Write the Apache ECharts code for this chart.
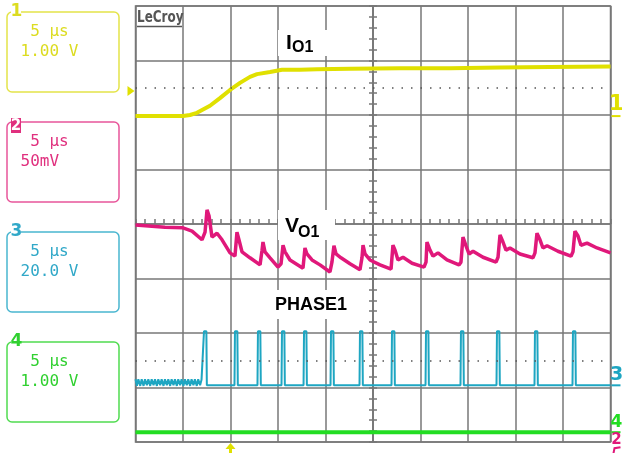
<!DOCTYPE html>
<html><head><meta charset="utf-8">
<script src="https://cdn.jsdelivr.net/npm/echarts@6/dist/echarts.min.js"></script>
<style>html,body{margin:0;padding:0;background:#fff}#c{width:622px;height:453px}</style>
</head><body><div id="c"></div>
<script>
// Time in microseconds from the left edge of the screen (5 us/div, 10 div); levels in screen divisions from centre (8 div)
const T_CENTER = 25;
const TRIGGER_T = 10;
const REF_LEVELS = [2.5, -2.5];           // dotted reference lines
const MARK_LEVELS = {ch1: 1.98, ch2: -4.4, ch3: -2.96, ch4: -3.82, ch1Left: 2.44};

const CH1_IO1 = [[0,1.98],[5.0,1.98],[5.74,2.0],[6.47,2.04],[7.84,2.17],[8.89,2.31],[9.95,2.46],[11.0,2.59],[12.05,2.7],[12.79,2.75],[14.16,2.79],[15.42,2.83],[17.32,2.83],[19.1,2.84],[22.58,2.85],[27.84,2.86],[33.1,2.86],[38.37,2.87],[43.63,2.88],[50,2.89]];

const CH2_VO1 = [[0,-0.02],[3.11,-0.06],[5.0,-0.07],[5.95,-0.13],[7.0,-0.29],[7.32,-0.15],[7.53,0.26],[7.74,0.15],[8.05,-0.24],[8.58,-0.17],[9.11,-0.29],[9.95,-0.53],[10.47,-0.59],[10.68,-0.15],[10.89,-0.29],[11.21,-0.51],[12.05,-0.62],[13.11,-0.75],[13.32,-0.48],[13.42,-0.33],[13.63,-0.51],[14.16,-0.62],[15.0,-0.79],[15.32,-0.73],[15.53,-0.39],[15.74,-0.51],[16.26,-0.66],[17.63,-0.81],[17.84,-0.44],[18.05,-0.55],[18.58,-0.66],[19.42,-0.75],[20.47,-0.88],[20.68,-0.70],[20.89,-0.40],[21.11,-0.55],[21.63,-0.62],[22.58,-0.73],[23.63,-0.84],[23.84,-0.62],[23.95,-0.39],[24.16,-0.55],[24.68,-0.66],[25.74,-0.75],[26.9,-0.83],[27.1,-0.39],[27.32,-0.48],[27.63,-0.66],[28.16,-0.61],[29.11,-0.72],[30.37,-0.79],[30.58,-0.70],[30.68,-0.33],[31.0,-0.48],[31.32,-0.59],[31.84,-0.53],[32.79,-0.66],[34.05,-0.75],[34.26,-0.70],[34.47,-0.24],[34.79,-0.40],[35.11,-0.55],[35.53,-0.50],[36.58,-0.61],[37.95,-0.70],[38.16,-0.61],[38.37,-0.20],[38.68,-0.33],[39.0,-0.48],[39.42,-0.44],[40.47,-0.55],[41.84,-0.62],[42.05,-0.53],[42.26,-0.17],[42.58,-0.29],[42.89,-0.44],[43.32,-0.40],[44.47,-0.50],[45.84,-0.59],[46.05,-0.51],[46.26,-0.13],[46.58,-0.22],[46.89,-0.39],[47.53,-0.35],[48.58,-0.44],[50,-0.53]];

const CH3_PHASE1 = [[0,-2.85],[0.15,-2.97],[0.3,-2.85],[0.5,-2.97],[0.65,-2.85],[0.85,-2.97],[1.0,-2.85],[1.2,-2.96],[1.35,-2.85],[1.55,-2.97],[1.7,-2.85],[1.9,-2.96],[2.05,-2.85],[2.25,-2.97],[2.4,-2.85],[2.6,-2.96],[2.75,-2.85],[2.95,-2.97],[3.1,-2.85],[3.3,-2.96],[3.45,-2.85],[3.65,-2.97],[3.8,-2.85],[4.0,-2.96],[4.15,-2.85],[4.35,-2.97],[4.5,-2.85],[4.7,-2.96],[4.85,-2.85],[5.05,-2.97],[5.2,-2.85],[5.4,-2.96],[5.55,-2.85],[5.75,-2.97],[5.9,-2.85],[6.1,-2.96],[6.25,-2.85],[6.45,-2.97],[6.6,-2.85],[6.8,-2.96],[6.95,-2.86],
[7.15,-2.86],[7.21,-1.97],[7.46,-1.97],[7.51,-2.96],
[10.42,-2.96],[10.47,-1.97],[10.72,-1.97],[10.77,-2.96],
[12.84,-2.96],[12.89,-1.97],[13.14,-1.97],[13.19,-2.96],
[15.37,-2.96],[15.42,-1.97],[15.67,-1.97],[15.72,-2.96],
[17.69,-2.96],[17.74,-1.97],[17.99,-1.97],[18.04,-2.96],
[20.53,-2.96],[20.58,-1.97],[20.83,-1.97],[20.88,-2.96],
[23.58,-2.96],[23.63,-1.97],[23.88,-1.97],[23.93,-2.96],
[26.95,-2.96],[27.0,-1.97],[27.25,-1.97],[27.3,-2.96],
[30.53,-2.96],[30.58,-1.97],[30.83,-1.97],[30.88,-2.96],
[34.21,-2.96],[34.26,-1.97],[34.51,-1.97],[34.56,-2.96],
[38.0,-2.96],[38.05,-1.97],[38.3,-1.97],[38.35,-2.96],
[42.0,-2.96],[42.05,-1.97],[42.3,-1.97],[42.35,-2.96],
[46.0,-2.96],[46.05,-1.97],[46.3,-1.97],[46.35,-2.96],
[50,-2.96]];

const CH4 = [[0,-3.82],[50,-3.82]];

const CHANNELS = [
  {num:'1', time:'5 \u03bcs', volt:'1.00 V'},
  {num:'2', time:'5 \u03bcs', volt:'50mV'},
  {num:'3', time:'5 \u03bcs', volt:'20.0 V'},
  {num:'4', time:'5 \u03bcs', volt:'1.00 V'}
];
const TRACE_LABELS = ['I', 'O1', 'V', 'O1', 'PHASE1'];

const GRID = '#777777';
const YEL = '#e0e000', PINK = '#e0187a', CYAN = '#1ea6c2', GREEN = '#22dd22';
const BOX_COLORS = ['#e4e44a', '#e8559a', '#4ab6d0', '#50dc50'];
const TXT_COLORS = ['#dcdc20', '#e0307e', '#30a8c8', '#30d030'];

const shift = arr => arr.map(p => [p[0] - T_CENTER, p[1]]);
const chart = echarts.init(document.getElementById('c'));
const axisCommon = {
  axisLine: {onZero: true, lineStyle: {color: GRID, width: 1.5}},
  axisTick: {show: true, length: 4, lineStyle: {color: GRID, width: 1.5}},
  minorTick: {show: true, splitNumber: 5, length: 4, lineStyle: {color: GRID, width: 1.5}},
  axisLabel: {show: false}
};
chart.setOption({
  animation: false,
  backgroundColor: '#fff',
  grid: {left: 135.5, top: 6, width: 475, height: 436, show: true, borderColor: GRID, borderWidth: 1.5, backgroundColor: '#fff'},
  xAxis: [Object.assign({type: 'value', min: -T_CENTER, max: T_CENTER, interval: 5, position: 'top',
    splitLine: {show: true, lineStyle: {color: GRID, width: 1.5}}}, axisCommon,
    {axisTick: {show: true, length: 5, lineStyle: {color: GRID, width: 1.5}},
     minorTick: {show: true, splitNumber: 5, length: 5, lineStyle: {color: GRID, width: 1.5}}})],
  yAxis: [
    Object.assign({type: 'value', min: -4, max: 4, interval: 1, position: 'left',
      splitLine: {show: true, lineStyle: {color: GRID, width: 1.5}}}, axisCommon),
    Object.assign({type: 'value', min: -4, max: 4, interval: 1, position: 'right', splitLine: {show: false}}, axisCommon,
      {axisLine: {onZero: true, onZeroAxisIndex: 0, lineStyle: {color: GRID, width: 1.5}}})
  ],
  series: [
    {type: 'line', data: shift(CH4), showSymbol: false, lineStyle: {color: GREEN, width: 4}, itemStyle: {color: GREEN},
      markLine: {silent: true, symbol: 'none', label: {show: false},
        lineStyle: {color: '#555', width: 1.5, type: [1.5, 8]},
        data: REF_LEVELS.map(v => ({yAxis: v}))}},
    {type: 'line', data: shift(CH3_PHASE1), showSymbol: false, lineStyle: {color: CYAN, width: 2}, itemStyle: {color: CYAN}},
    {type: 'line', data: shift(CH2_VO1), showSymbol: false, lineStyle: {color: PINK, width: 3.5}, itemStyle: {color: PINK}},
    {type: 'line', data: shift(CH1_IO1), showSymbol: false, lineStyle: {color: YEL, width: 4}, itemStyle: {color: YEL}}
  ]
});

const px = (t, v) => chart.convertToPixel({xAxisIndex: 0, yAxisIndex: 0}, [t - T_CENTER, v]);
const g = [];
const MONO = '"DejaVu Sans Mono", monospace';
const boxTops = [12, 122, 232, 342];
CHANNELS.forEach((ch, i) => {
  const top = boxTops[i];
  g.push({type: 'rect', shape: {x: 7, y: top, width: 112, height: 80, r: 5},
    style: {fill: 'none', stroke: BOX_COLORS[i], lineWidth: 1.5}, z: 10});
  if (i === 1) {
    g.push({type: 'rect', shape: {x: 11, y: top - 4, width: 10, height: 15}, style: {fill: TXT_COLORS[i]}, z: 11});
    g.push({type: 'text', style: {text: ch.num, x: 16, y: top + 4, fill: '#fff', font: 'bold 15px "DejaVu Sans"', align: 'center', verticalAlign: 'middle'}, z: 12});
  } else {
    g.push({type: 'rect', shape: {x: 11, y: top - 2, width: 10, height: 4}, style: {fill: '#fff'}, z: 11});
    g.push({type: 'text', style: {text: ch.num, x: 16.5, y: top, fill: TXT_COLORS[i], font: 'bold 17px "DejaVu Sans"', align: 'center', verticalAlign: 'middle'}, z: 12});
  }
  g.push({type: 'text', style: {text: ' ' + ch.time, x: 20.5, y: top + 20, fill: TXT_COLORS[i], font: '16px ' + MONO, verticalAlign: 'middle'}, z: 12});
  g.push({type: 'text', style: {text: ch.volt, x: 20.5, y: top + 40, fill: TXT_COLORS[i], font: '16px ' + MONO, verticalAlign: 'middle'}, z: 12});
});
// LeCroy logo
g.push({type: 'text', x: 137, y: 18, scaleX: 0.8, style: {text: 'LeCroy', x: 0, y: 0, fill: '#555', font: 'bold 15px "DejaVu Sans"', verticalAlign: 'middle'}, z: 12});
g.push({type: 'line', shape: {x1: 137, y1: 26.5, x2: 182, y2: 26.5}, style: {stroke: '#555', lineWidth: 1.5}, z: 12});
// trace labels with white backgrounds
g.push({type: 'rect', shape: {x: 278, y: 30, width: 54, height: 26}, style: {fill: '#fff'}, z: 11});
g.push({type: 'text', style: {text: TRACE_LABELS[0], x: 286, y: 43, fill: '#000', font: 'bold 21px "Liberation Sans"', verticalAlign: 'middle'}, z: 12});
g.push({type: 'text', style: {text: TRACE_LABELS[1], x: 292, y: 48, fill: '#000', font: 'bold 16px "Liberation Sans"', verticalAlign: 'middle'}, z: 12});
g.push({type: 'rect', shape: {x: 278, y: 210, width: 57, height: 30}, style: {fill: '#fff'}, z: 11});
g.push({type: 'text', style: {text: TRACE_LABELS[2], x: 285, y: 226, fill: '#000', font: 'bold 21px "Liberation Sans"', verticalAlign: 'middle'}, z: 12});
g.push({type: 'text', style: {text: TRACE_LABELS[3], x: 298, y: 233, fill: '#000', font: 'bold 16px "Liberation Sans"', verticalAlign: 'middle'}, z: 12});
g.push({type: 'rect', shape: {x: 272, y: 290, width: 80, height: 29}, style: {fill: '#fff'}, z: 11});
g.push({type: 'text', style: {text: TRACE_LABELS[4], x: 275, y: 305, fill: '#000', font: 'bold 18px "Liberation Sans"', verticalAlign: 'middle'}, z: 12});
// trigger arrow
const trg = px(TRIGGER_T, -4);
g.push({type: 'polygon', shape: {points: [[trg[0] - 5, trg[1] + 7], [trg[0], trg[1] + 1], [trg[0] + 5, trg[1] + 7]]}, style: {fill: YEL}, z: 12});
g.push({type: 'rect', shape: {x: trg[0] - 1.5, y: trg[1] + 6, width: 3, height: 6}, style: {fill: YEL}, z: 12});
// left ch1 pointer
const lp = px(0, MARK_LEVELS.ch1Left);
g.push({type: 'polygon', shape: {points: [[lp[0] - 8, lp[1] - 5], [lp[0] - 1, lp[1]], [lp[0] - 8, lp[1] + 5]]}, style: {fill: YEL}, z: 12});
// right channel markers
const rx = px(50, 0)[0];
function rightMark(num, level, color, size) {
  const p = px(50, level);
  g.push({type: 'text', style: {text: num, x: rx + 6, y: p[1] - 1, fill: color, font: 'bold ' + size + 'px "DejaVu Sans"', align: 'center', verticalAlign: 'bottom'}, z: 12});
  g.push({type: 'line', shape: {x1: rx + 1, y1: p[1], x2: rx + 10, y2: p[1]}, style: {stroke: color, lineWidth: 2}, z: 12});
}
rightMark('1', MARK_LEVELS.ch1, YEL, 22);
rightMark('3', MARK_LEVELS.ch3, CYAN, 19);
rightMark('4', MARK_LEVELS.ch4, GREEN, 17);
const p2 = px(50, MARK_LEVELS.ch4);
g.push({type: 'text', style: {text: '2', x: rx + 6, y: p2[1] + 8, fill: PINK, font: 'bold 15px "DejaVu Sans"', align: 'center', verticalAlign: 'middle'}, z: 12});
g.push({type: 'polyline', shape: {points: [[rx + 3, p2[1] + 21], [rx + 4, p2[1] + 16], [rx + 10, p2[1] + 15]]}, style: {stroke: PINK, lineWidth: 2, fill: 'none'}, z: 12});
chart.setOption({graphic: g});
</script>
</body></html>
